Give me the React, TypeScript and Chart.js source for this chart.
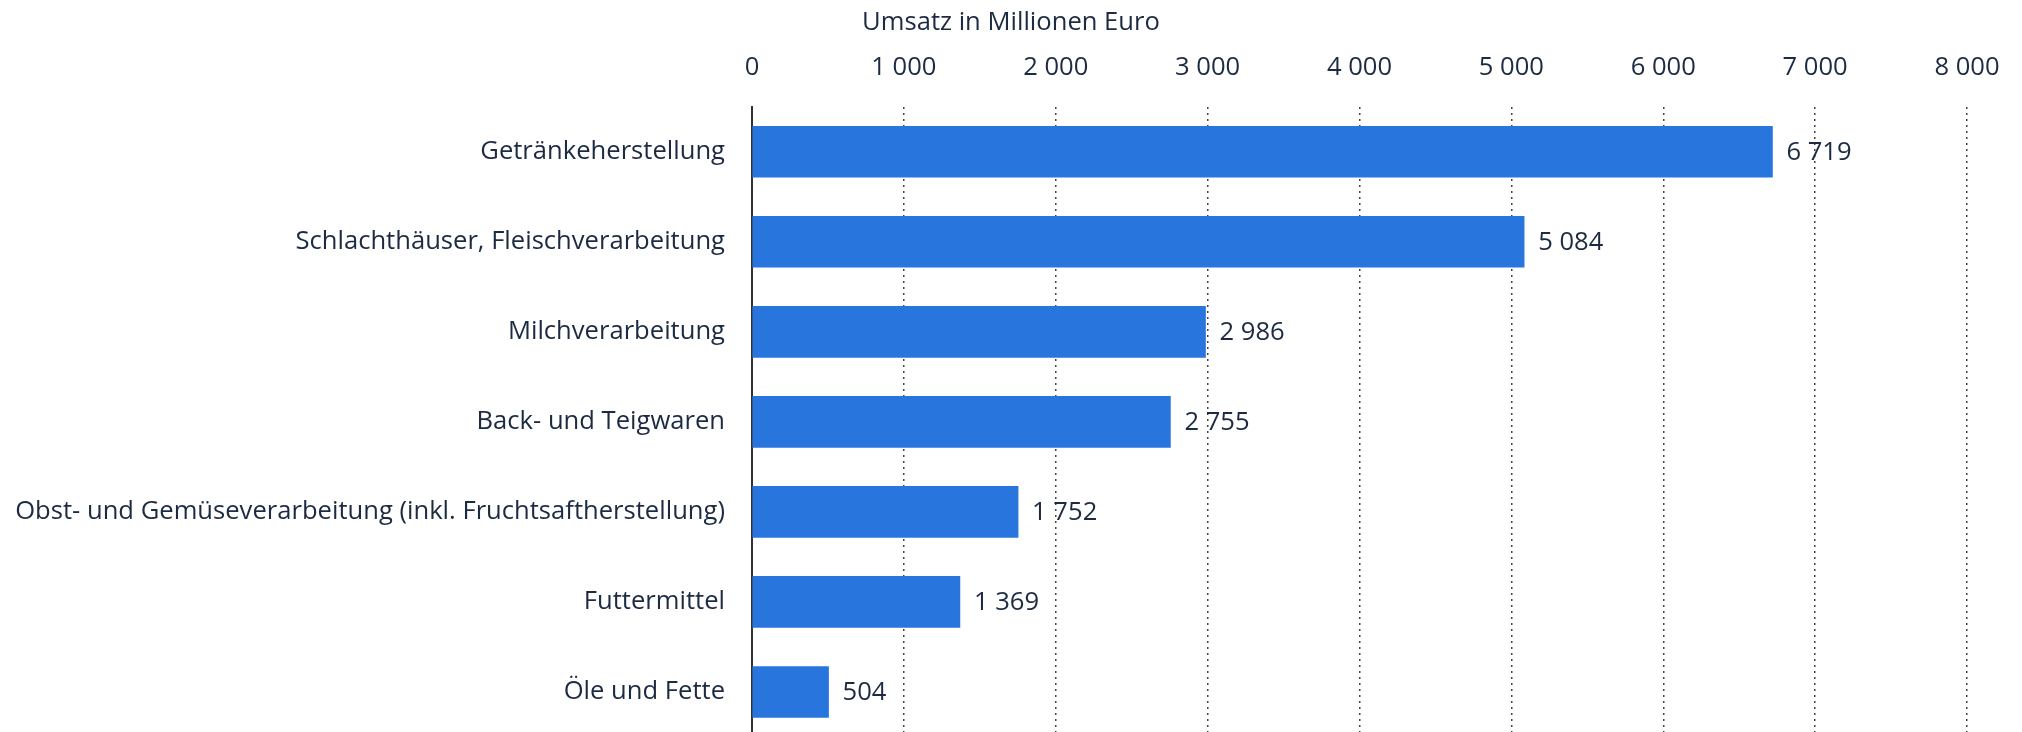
import React, { useEffect, useRef } from "react";
import { Chart, registerables } from "chart.js";

Chart.register(...registerables);

const categories = [
  "Getränkeherstellung",
  "Schlachthäuser, Fleischverarbeitung",
  "Milchverarbeitung",
  "Back- und Teigwaren",
  "Obst- und Gemüseverarbeitung (inkl. Fruchtsaftherstellung)",
  "Futtermittel",
  "Öle und Fette",
];
const values = [6719, 5084, 2986, 2755, 1752, 1369, 504];
const axisTitle = "Umsatz in Millionen Euro";
const xMin = 0;
const xMax = 8000;
const xStep = 1000;

const FONT = "'Open Sans', 'Noto Sans', sans-serif";
const FS = 25.6;
const TEXT = "#1d2b42";
const BAR = "#2876dd";

const fmt = (v: number) => String(Math.round(v)).replace(/\B(?=(\d{3})+(?!\d))/g, " ");

const valueLabels = {
  id: "valueLabels",
  afterDatasetsDraw(chart: any) {
    const { ctx } = chart;
    const meta = chart.getDatasetMeta(0);
    ctx.save();
    ctx.font = `400 ${FS}px ${FONT}`;
    ctx.fillStyle = TEXT;
    ctx.textAlign = "left";
    ctx.textBaseline = "middle";
    meta.data.forEach((bar: any, i: number) => {
      ctx.fillText(fmt(values[i]), bar.x + 14, bar.y + 1);
    });
    ctx.restore();
  },
};

export default function App() {
  const ref = useRef<HTMLCanvasElement | null>(null);

  useEffect(() => {
    if (!ref.current) return;
    const chart = new Chart(ref.current, {
      type: "bar",
      data: {
        labels: categories,
        datasets: [
          {
            data: values,
            backgroundColor: BAR,
            borderWidth: 0,
            barThickness: 51,
          },
        ],
      },
      options: {
        indexAxis: "y",
        responsive: false,
        maintainAspectRatio: false,
        animation: false,
        layout: { padding: 0 },
        plugins: {
          legend: { display: false },
          tooltip: { enabled: false },
          title: {
            display: true,
            text: axisTitle,
            color: TEXT,
            font: { family: FONT, size: FS, weight: "normal" as any },
            padding: { top: 7, bottom: 0 },
          },
        },
        scales: {
          x: {
            position: "top",
            min: xMin,
            max: xMax,
            ticks: {
              stepSize: xStep,
              color: TEXT,
              padding: 24,
              font: { family: FONT, size: FS },
              callback: (v: any) => fmt(Number(v)),
            },
            grid: {
              drawTicks: false,
              lineWidth: 1.5,
              color: (c: any) => (c.tick && c.tick.value === 0 ? "rgba(0,0,0,0)" : "#444"),
              borderDash: [2, 4],
            } as any,
            border: { display: false, dash: [2, 4] },
            afterFit: (s: any) => {
              s.height = 69;
              s.paddingLeft = 0;
              s.paddingRight = 55;
            },
          },
          y: {
            ticks: {
              color: TEXT,
              padding: 27,
              font: { family: FONT, size: FS },
            },
            grid: { display: false, drawTicks: false },
            border: { display: true, color: "#333", width: 2 },
            afterFit: (s: any) => {
              s.width = 752;
              s.paddingTop = 0;
              s.paddingBottom = 0;
            },
          },
        },
      },
      plugins: [valueLabels],
    });
    return () => chart.destroy();
  }, []);

  return (
    <div style={{ position: "fixed", left: 0, top: 0, width: 2022, height: 732, overflow: "hidden", background: "#fff" }}>
      <canvas ref={ref} width={2022} height={737} style={{ display: "block", width: 2022, height: 737 }} />
    </div>
  );
}
